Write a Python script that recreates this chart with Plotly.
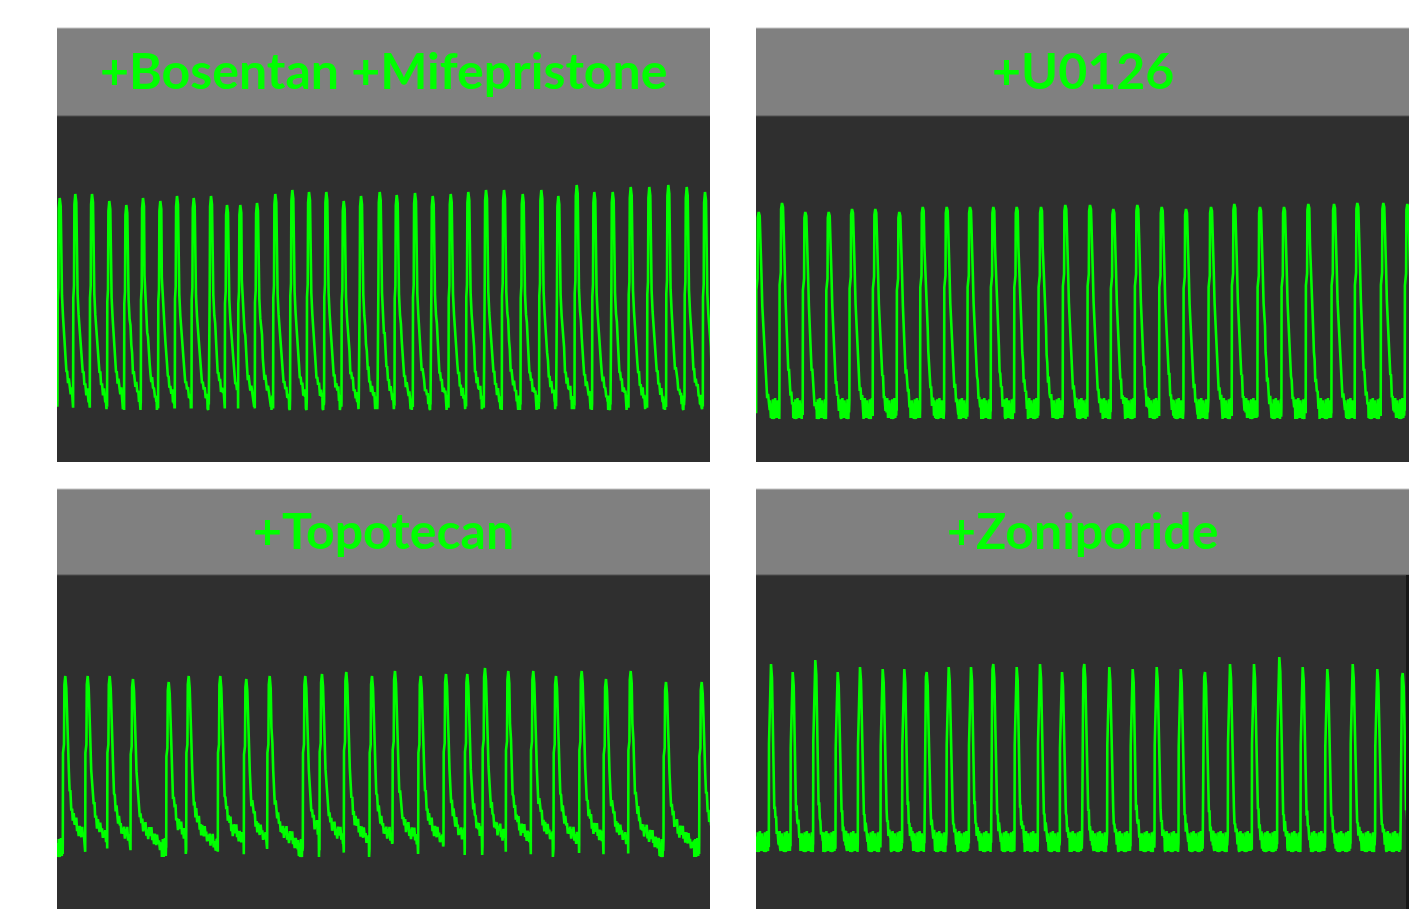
import plotly.graph_objects as go

# The page body has an 8px margin; the figure is sized/positioned to compensate.
OFF = 8
W, H = 1427 - OFF, 909 - OFF

titles = ["+Bosentan +Mifepristone", "+U0126", "+Topotecan", "+Zoniporide"]

# ---- spike times (frames from panel start) and peak levels (a.u.) ----
bos_times = [2.7, 18.3, 35, 52.3, 69.3, 86, 103.3, 120, 136.7, 154, 170, 183.3, 200, 218.3,
             235.3, 252, 269.3, 286.7, 304, 322.7, 339.7, 358, 375.7, 393.7, 411.3, 429, 447,
             465.7, 484.3, 501.3, 519.7, 537.3, 555.7, 573.7, 592.3, 611.3, 629.7, 648]
bos_peaks = [264, 268, 268, 261, 257, 264, 261, 266, 264, 266, 257, 257, 259, 268, 272, 270,
             270, 261, 266, 270, 267, 269, 266, 268, 270, 272, 272, 268, 272, 266, 277, 270,
             270, 275, 275, 277, 275, 270]
bos_base = 60

u0_times = [2.7, 26, 49.3, 72.7, 96, 119.3, 143.3, 166.7, 190.7, 214, 237.3, 260.7, 285, 309.3,
            334, 357.3, 381.3, 405.7, 430, 455, 478.3, 504, 528, 552.3, 578, 601.3, 627.3, 651.3]
u0_peaks = [250, 259, 250, 250, 253, 253, 250, 255, 255, 255, 255, 255, 255, 257, 257, 253,
            257, 255, 253, 255, 258, 255, 255, 258, 258, 259, 259, 258]
u0_base = 54

topo_times = [8.3, 30.7, 52.7, 76, 111.7, 131.7, 163.3, 189.3, 212.7, 248.3, 265, 289.3, 315,
              338, 363.7, 389, 410.3, 428, 451.3, 476.3, 499, 524.7, 549, 573.7, 609, 644.7]
topo_peaks = [233, 233, 233, 230, 227, 233, 233, 230, 233, 233, 235, 237, 233, 238, 233, 235,
              235, 241, 238, 238, 233, 238, 230, 238, 227, 227]
topo_base = 62

zoni_times = [15, 36.7, 59.3, 81.7, 104, 126.7, 148.3, 170.7, 192.7, 215, 237.3, 260.7, 284, 306,
              328.3, 353.3, 376.7, 400.7, 424.7, 449, 474, 498, 523.3, 546.7, 571.3, 596.7,
              621.3, 646.7]
zoni_peaks = [245, 237, 249, 237, 242, 240, 240, 237, 242, 242, 245, 242, 245, 237, 245, 242,
              240, 242, 240, 237, 245, 245, 252, 242, 240, 245, 240, 236]
zoni_base = 68

# ---- transient shapes: (frames from peak, fraction of amplitude) ----
bos_shape = [(-2.2, 0.0), (-2.0, 0.5), (-1.3, 0.56), (-0.9, 0.95), (0, 1.0), (1.0, 0.96),
             (1.5, 0.62), (2.3, 0.52), (3.3, 0.42), (4.2, 0.36), (5.0, 0.31), (5.8, 0.24),
             (6.7, 0.17), (7.5, 0.14), (8.3, 0.12), (9.1, 0.1), (10.0, 0.08), (11.0, 0.06),
             (12.0, 0.05), (12.7, 0.03), (13.3, 0.02)]
u0_shape = [(-2.6, 0.0), (-2.4, 0.6), (-1.2, 0.66), (-0.9, 0.97), (0, 1.0), (1.0, 0.98),
            (1.7, 0.8), (2.7, 0.69), (3.6, 0.52), (4.3, 0.45), (5.0, 0.37), (5.6, 0.3),
            (6.3, 0.22), (7.0, 0.17), (7.7, 0.13), (8.5, 0.09), (9.3, 0.05), (10.2, 0.03),
            (11.0, 0.02)]
topo_shape = [(-2.5, 0.0), (-2.3, 0.55), (-1.3, 0.6), (-0.9, 0.95), (0, 1.0), (1.0, 0.93),
              (1.7, 0.7), (2.7, 0.61), (3.5, 0.45), (4.3, 0.34), (5.1, 0.29), (6.0, 0.25),
              (6.8, 0.22), (7.5, 0.2), (8.4, 0.17), (9.3, 0.15), (10.2, 0.14), (11.0, 0.13),
              (11.8, 0.12), (12.5, 0.11), (13.4, 0.105), (14.3, 0.1), (15.2, 0.095),
              (16.0, 0.09), (16.8, 0.085), (17.5, 0.08), (18.4, 0.075), (19.3, 0.07),
              (20.2, 0.065), (21.0, 0.06), (21.8, 0.055), (22.5, 0.05), (23.3, 0.045),
              (24.0, 0.04), (25.0, 0.035), (26.0, 0.03), (27.0, 0.025), (28.0, 0.02)]
zoni_shape = [(-2.2, 0.0), (-2.0, 0.55), (-1.2, 0.8), (-0.8, 0.97), (0, 1.0), (1.0, 0.92),
              (1.8, 0.69), (2.6, 0.45), (3.3, 0.23), (3.9, 0.18), (4.5, 0.14), (5.1, 0.1),
              (5.7, 0.08), (6.6, 0.05), (7.5, 0.03)]

# baseline noise pattern seen along the trough (relative units) and its size per panel
ripple = [0, -0.6, 0.4, -1.0, 0.3, -0.2, 0.8, -0.8, 0.1, -1.0, 0.6, -0.4, 0.0, 0.9, -0.6,
          0.3, -0.9, 0.5, -0.1, -0.7, 0.7, -0.3, 0.2, -0.9]
noise_size = [8, 11, 10, 11]

panels = [
    (bos_times, bos_peaks, bos_base, bos_shape, 653),
    (u0_times, u0_peaks, u0_base, u0_shape, 653),
    (topo_times, topo_peaks, topo_base, topo_shape, 653),
    (zoni_times, zoni_peaks, zoni_base, zoni_shape, 650),
]


def build(times, peaks, base, shape, t_end, nz, step=0.3):
    xs, ys = [], []
    k = 0
    cur = 0.0
    rise = shape[0][0]
    for i, (t, p) in enumerate(zip(times, peaks)):
        start = t + rise
        x = cur
        while x < start:
            xs.append(x)
            ys.append(base + nz * ripple[k % len(ripple)])
            k += 1
            x += step
        nxt = times[i + 1] + rise if i + 1 < len(times) else t_end + 10
        amp = p - base
        last = start
        for dt, f in shape:
            if t + dt >= nxt:
                break
            n = nz * 0.8 * ripple[k % len(ripple)] if f < 0.4 else 0
            k += 1
            xs.append(t + dt)
            ys.append(base + f * amp + n)
            last = t + dt
        cur = last + step
    x = cur
    while x <= t_end:
        xs.append(x)
        ys.append(base + nz * ripple[k % len(ripple)])
        k += 1
        x += step
    return xs, ys


def px(v):
    return (v - OFF) / W


def py(v):
    return 1 - (v - OFF) / H


GREEN = "#00ff00"
fig = go.Figure()

xdom = [[px(57), px(710)], [px(756), px(1409)], [px(57), px(710)], [px(756), px(1406)]]
ydom_top = [py(462), py(116)]
ydom_bot = [0, py(575)]
ydom = [ydom_top, ydom_top, ydom_bot, ydom_bot]
yr = [[0, 346], [0, 346], [0, 334], [0, 334]]

layout = dict(width=W, height=H, margin=dict(l=0, r=0, t=0, b=0),
              paper_bgcolor="white", plot_bgcolor="#2f2f2f", showlegend=False)

for i, (times, peaks, base, shape, t_end) in enumerate(panels):
    xs, ys = build(times, peaks, base, shape, t_end, noise_size[i])
    sfx = "" if i == 0 else str(i + 1)
    fig.add_trace(go.Scatter(x=xs, y=ys, mode="lines", line=dict(color=GREEN, width=2.6),
                             xaxis="x" + sfx, yaxis="y" + sfx, hoverinfo="skip"))
    layout["xaxis" + sfx] = dict(domain=xdom[i], range=[0, t_end], anchor="y" + sfx,
                                 showgrid=False, zeroline=False, showticklabels=False,
                                 ticks="", showline=False, fixedrange=True)
    layout["yaxis" + sfx] = dict(domain=ydom[i], range=yr[i], anchor="x" + sfx,
                                 showgrid=False, zeroline=False, showticklabels=False,
                                 ticks="", showline=False, fixedrange=True)

fig.update_layout(**layout)

# header bands and titles
shapes = []
annotations = []
header_y = [(28, 116), (28, 116), (489, 575), (489, 575)]
hx = [(57, 710), (756, 1409), (57, 710), (756, 1409)]
for i in range(4):
    x0, x1 = hx[i]
    y0, y1 = header_y[i]
    shapes.append(dict(type="rect", xref="paper", yref="paper", x0=px(x0), x1=px(x1),
                       y0=py(y1), y1=py(y0), fillcolor="#808080", line=dict(width=0),
                       layer="below"))
    shapes.append(dict(type="line", xref="paper", yref="paper", x0=px(x0), x1=px(x1),
                       y0=py(y0), y1=py(y0), line=dict(color="#c4c4c4", width=1)))
    shapes.append(dict(type="line", xref="paper", yref="paper", x0=px(x0), x1=px(x1),
                       y0=py(y1), y1=py(y1), line=dict(color="#505050", width=1)))
    annotations.append(dict(text=titles[i], xref="paper", yref="paper",
                            x=px((x0 + x1) / 2), y=py((y0 + y1) / 2 - 2),
                            xanchor="center", yanchor="middle", showarrow=False,
                            font=dict(family="Lato", size=50, color=GREEN, weight=700)))
# thin dark edge at the right of the last panel
shapes.append(dict(type="rect", xref="paper", yref="paper", x0=px(1406), x1=px(1409),
                   y0=0, y1=py(575), fillcolor="#161616", line=dict(width=0)))
fig.update_layout(shapes=shapes, annotations=annotations)

fig.write_html("out.html")
